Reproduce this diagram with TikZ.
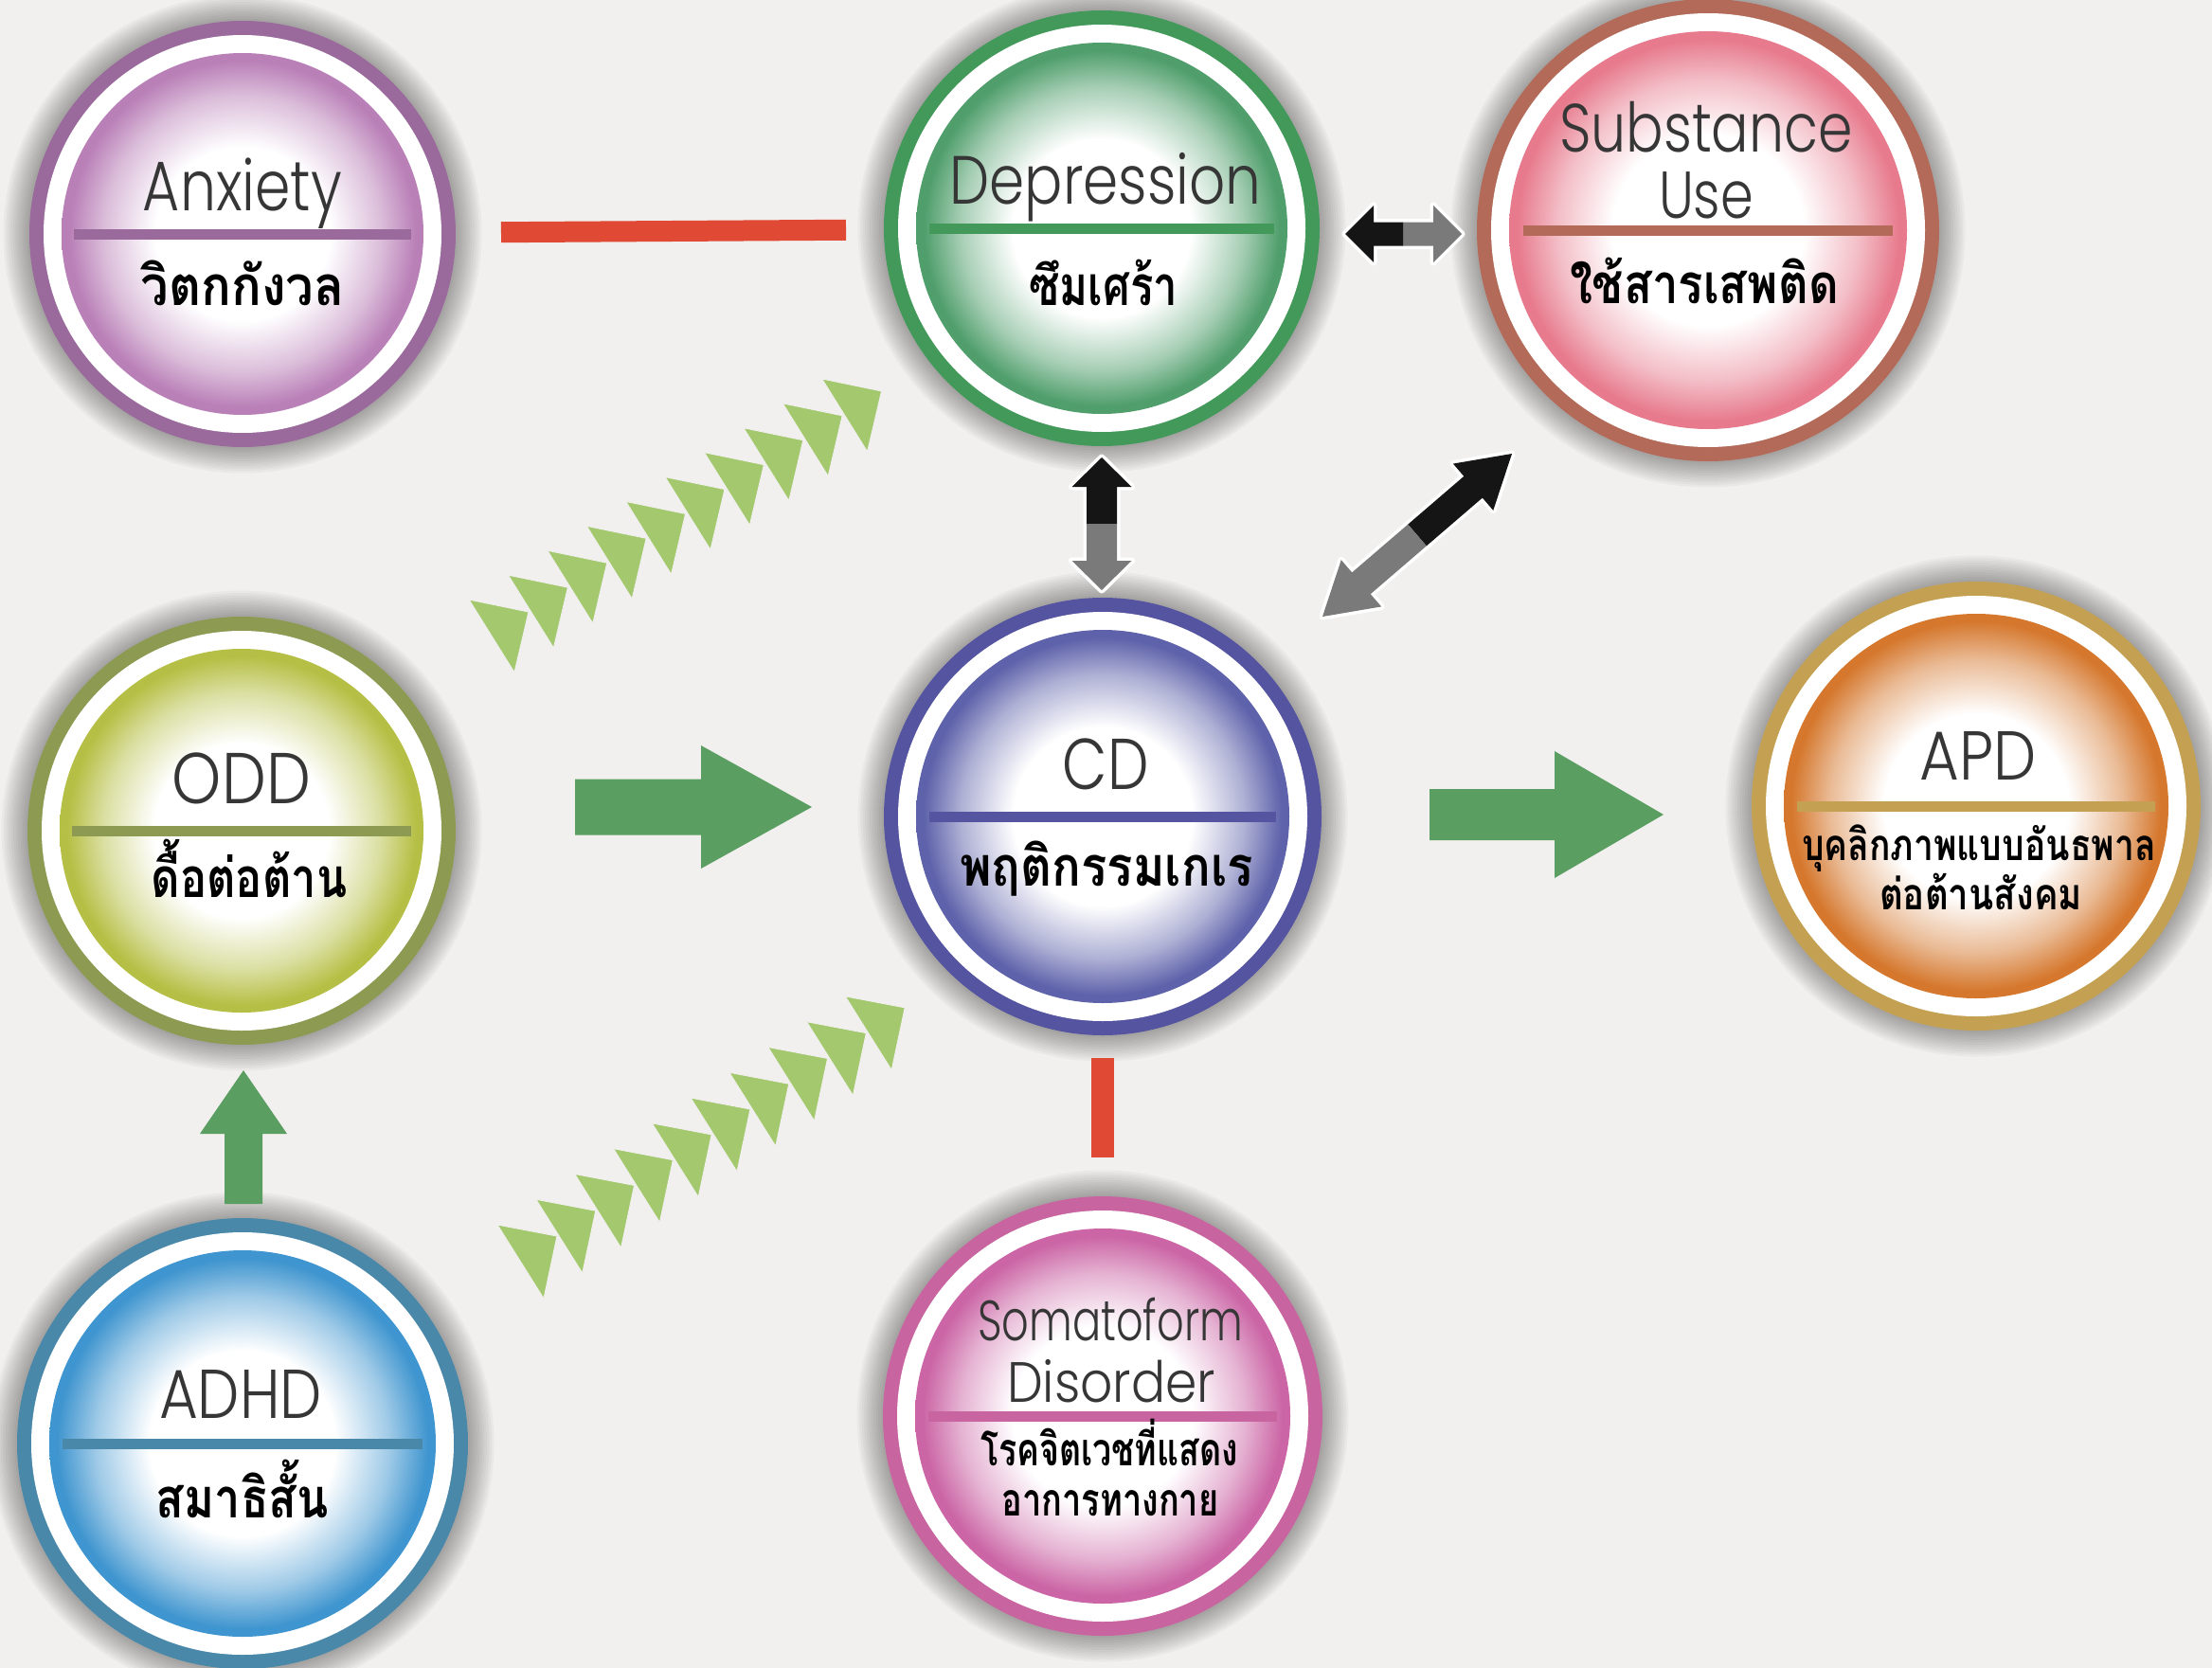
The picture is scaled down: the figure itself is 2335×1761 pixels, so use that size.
\documentclass[tikz,border=0pt]{standalone}
\usepackage{fontspec}
\usepackage{graphicx}
\usetikzlibrary{calc}
\newfontfamily\ttlfont{Poppins Light}
\newfontfamily\thaifont[Script=Thai]{Loma}

\definecolor{bg}{HTML}{F1F0EE}
\definecolor{ttlc}{HTML}{363636}
\definecolor{anxR}{HTML}{9A6A9C}\definecolor{anxF}{HTML}{B97FB7}
\definecolor{depR}{HTML}{43995A}\definecolor{depF}{HTML}{4F9E6B}
\definecolor{subR}{HTML}{B36A58}\definecolor{subF}{HTML}{E77B8D}
\definecolor{oddR}{HTML}{8C9A52}\definecolor{oddF}{HTML}{B6BF45}
\definecolor{cdR}{HTML}{5454A0}\definecolor{cdF}{HTML}{5E62AA}
\definecolor{apdR}{HTML}{C4A052}\definecolor{apdF}{HTML}{D5782E}
\definecolor{adhR}{HTML}{4A88AA}\definecolor{adhF}{HTML}{3F95CF}
\definecolor{somR}{HTML}{C8649F}\definecolor{somF}{HTML}{CB65A5}
\definecolor{redbar}{HTML}{E04A35}
\definecolor{garrow}{HTML}{5A9E62}
\definecolor{chev}{HTML}{A3C86E}
\definecolor{darkarr}{HTML}{151515}
\definecolor{grayarr}{HTML}{7A7A7A}

\newcommand\mkshade[2]{\pgfdeclareradialshading{#1}{\pgfpointorigin}{color(0bp)=(white); color(12bp)=(white); color(19bp)=(#2!50!white); color(24bp)=(#2); color(50bp)=(#2)}}
\mkshade{shanx}{anxF}\mkshade{shdep}{depF}\mkshade{shsub}{subF}\mkshade{shodd}{oddF}
\mkshade{shcd}{cdF}\mkshade{shapd}{apdF}\mkshade{shadh}{adhF}\mkshade{shsom}{somF}

\newsavebox\mybox
\newlength\myht
\newcommand\fitw[4]{\sbox\mybox{#2\fontsize{#3}{#3}\selectfont #4}\setlength\myht{\ht\mybox}\resizebox{#1}{\myht}{\usebox\mybox}}

\tikzset{
  rbar/.style={redbar, line width=22pt, line cap=butt},
  halo/.style={fill=white, draw=white, line width=7pt, line join=round},
  blk/.style={fill=darkarr},
  gry/.style={fill=grayarr},
  grn/.style={fill=garrow},
  chevron/.style={fill=chev, draw=bg, line width=1pt, line join=round},
  hidden/.style={circle, inner sep=0pt, outer sep=0pt}
}

% #1 name, #2 x, #3 y, #4 radius, #5 ring colour, #6 shading
\newcommand\disc[6]{%
  \foreach \k in {1,...,11}{\fill[black,opacity=0.03] (#2,#3) circle ({#4+2.5*\k});}
  \fill[#5] (#2,#3) circle (#4);
  \fill[white] (#2,#3) circle ({#4-15});
  \shade[shading=#6] (#2,#3) circle ({#4-34});
  \draw[#5, line width=11pt] ({#2-0.93*(#4-34)},#3) -- ({#2+0.93*(#4-34)},#3);
  \node[hidden, minimum size={2*#4*1pt}] (#1) at (#2,#3) {};
}
\newcommand\ttl[5]{\node[anchor=base, text=ttlc, inner sep=0pt] at (#1,#2) {\fitw{#3pt}{\ttlfont}{#4pt}{#5}};}
\newcommand\thl[5]{\node[anchor=base, text=black, inner sep=0pt] at (#1,#2) {\fitw{#3pt}{\thaifont\bfseries}{#4pt}{#5}};}

% block arrow: #1 start, #2 tip, #3 shaft half width, #4 head half width, #5 head length, #6 style
\newcommand\barrow[6]{%
  \coordinate (bA) at ($(#2)!#5!(#1)$);
  \path[#6] ($(#1)!#3!90:(#2)$) -- ($(bA)!#3!90:(#2)$) -- ($(bA)!#4!90:(#2)$) -- (#2)
    -- ($(bA)!#4!-90:(#2)$) -- ($(bA)!#3!-90:(#2)$) -- ($(#1)!#3!-90:(#2)$) -- cycle;
}

\begin{document}
\begin{tikzpicture}[x=1pt,y=-1pt]
\useasboundingbox (0,0) rectangle (2335,1761);
\clip (0,0) rectangle (2335,1761);
\fill[bg] (0,0) rectangle (2335,1761);

% discs
\disc{anx}{256}{247}{225}{anxR}{shanx}
\disc{dep}{1163}{241}{230}{depR}{shdep}
\disc{sub}{1803}{243}{244}{subR}{shsub}
\disc{odd}{255}{877}{226}{oddR}{shodd}
\disc{cd}{1164}{862}{231}{cdR}{shcd}
\disc{apd}{2086}{851}{237}{apdR}{shapd}
\disc{adh}{256}{1524}{238}{adhR}{shadh}
\disc{som}{1164}{1495}{232}{somR}{shsom}

% titles
\ttl{256}{222}{210}{74}{Anxiety}
\ttl{1167}{215}{329}{72}{Depression}
\ttl{1801}{160}{310}{72}{Substance}
\ttl{1801}{230}{100}{70}{Use}
\ttl{1167}{833}{91}{76}{CD}
\ttl{2088}{823}{123}{73}{APD}
\ttl{1172}{1415}{280}{60}{Somatoform}
\ttl{1173}{1480}{220}{60}{Disorder}
\ttl{255}{848}{146}{76}{ODD}
\ttl{254}{1497}{172}{73}{ADHD}

% thai
\thl{256}{322}{215}{58}{วิตกกังวล}
\thl{1165}{322}{157}{58}{ซึมเศร้า}
\thl{1799}{320}{284}{58}{ใช้สารเสพติด}
\thl{1168}{935}{310}{58}{พฤติกรรมเกเร}
\thl{2089}{908}{374}{46}{บุคลิกภาพแบบอันธพาล}
\thl{2091}{960}{214}{46}{ต่อต้านสังคม}
\thl{1171}{1547}{272}{48}{โรคจิตเวชที่แสดง}
\thl{1172}{1600}{229}{48}{อาการทางกาย}
\thl{263}{947}{207}{58}{ดื้อต่อต้าน}
\thl{256}{1602}{182}{58}{สมาธิสั้น}

% red links
\draw[rbar, shorten <=48pt, shorten >=40pt] (anx) -- (dep);
\draw[rbar, line width=24pt, shorten <=24pt, shorten >=41pt] (cd) -- (som);

% green block arrows
\coordinate (oc1) at ([shift={(126,-25)}]odd.east);
\coordinate (oc2) at ([shift={(-76,-10)}]cd.west);
\barrow{oc1}{oc2}{29.5pt}{65pt}{117pt}{grn}
\coordinate (ca1) at ([shift={(114,-2)}]cd.east);
\coordinate (ca2) at ([shift={(-93,9)}]apd.west);
\barrow{ca1}{ca2}{27pt}{67pt}{115pt}{grn}
\coordinate (ao1) at ([shift={(1,-15)}]adh.north);
\coordinate (ao2) at ([shift={(2,27)}]odd.south);
\barrow{ao1}{ao2}{20pt}{46pt}{67pt}{grn}

% double arrows: depression - substance
\coordinate (ds1) at ([shift={(27,6)}]dep.east);
\coordinate (ds2) at ([shift={(-16,4)}]sub.west);
\coordinate (dsm) at ($(ds1)!0.5!(ds2)$);
\barrow{dsm}{ds1}{12.5pt}{30pt}{30pt}{halo}
\barrow{dsm}{ds2}{12.5pt}{30pt}{30pt}{halo}
\barrow{dsm}{ds1}{12.5pt}{30pt}{30pt}{blk}
\barrow{dsm}{ds2}{12.5pt}{30pt}{30pt}{gry}

% depression - cd
\coordinate (dc1) at ([shift={(0,12)}]dep.south);
\coordinate (dc2) at ([shift={(-1,-8)}]cd.north);
\coordinate (dcm) at ($(dc1)!0.5!(dc2)$);
\barrow{dcm}{dc1}{16pt}{31.5pt}{31pt}{halo}
\barrow{dcm}{dc2}{16pt}{31.5pt}{31pt}{halo}
\barrow{dcm}{dc1}{16pt}{31.5pt}{31pt}{blk}
\barrow{dcm}{dc2}{16pt}{31.5pt}{31pt}{gry}

% cd - substance
\coordinate (cs1) at ([shift={(-207,236)}]sub.center);
\coordinate (cs2) at ([shift={(232,-211)}]cd.center);
\coordinate (csm) at ($(cs1)!0.5!(cs2)$);
\barrow{csm}{cs1}{15pt}{32.5pt}{54pt}{halo}
\barrow{csm}{cs2}{15pt}{32.5pt}{54pt}{halo}
\barrow{csm}{cs1}{15pt}{32.5pt}{54pt}{blk}
\barrow{csm}{cs2}{15pt}{32.5pt}{54pt}{gry}

% chevron rows
\foreach \i in {0,...,9}{\fill[chevron] ({495+41.4*\i},{633-25.9*\i}) -- ++(63,13) -- ++(-15,64) -- cycle;}
\foreach \i in {0,...,9}{\fill[chevron] ({525+40.8*\i},{1293-26.8*\i}) -- ++(63,12) -- ++(-14,66) -- cycle;}
\end{tikzpicture}
\end{document}
